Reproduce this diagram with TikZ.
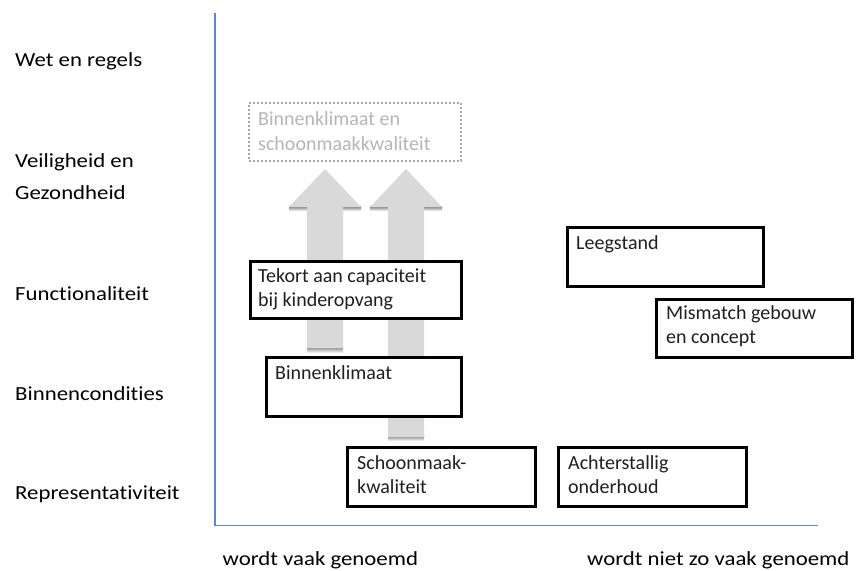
\documentclass[tikz,border=0pt]{standalone}
\usepackage{fontspec}
\setmainfont[Ligatures=NoCommon]{Carlito}
\newfontfamily\lblfont[FakeStretch=1.14,Ligatures=NoCommon]{Carlito}
\definecolor{axisblue}{HTML}{5B8AC6}
\definecolor{arrowgray}{HTML}{D9D9D9}
\definecolor{fadedtext}{HTML}{B5B5B5}
\definecolor{dotgray}{HTML}{A6A6A6}
\definecolor{boxtext}{HTML}{1F1F1F}
\newcommand{\fl}{\rule{0pt}{15pt}}
\begin{document}
\begin{tikzpicture}[x=1pt,y=-1pt,
  boxnode/.style={draw=black, line width=3pt, fill=white, anchor=north west, inner sep=0pt},
  btxt/.style={font=\fontsize{20}{24}\selectfont, text=boxtext, inner sep=0pt, anchor=north west, align=left},
  lbl/.style={font=\lblfont\fontsize{20}{31.5}\selectfont, text=black, inner sep=0pt, anchor=north west, align=left},
  axisline/.style={draw=axisblue, line width=1.3pt},
  blockarrow/.style={fill=arrowgray},
  arrowshadow/.style={top color=black!55, bottom color=white},
  dotbox/.style={draw=dotgray, line width=2pt, dash pattern=on 2pt off 2pt, anchor=north west, inner sep=0pt},
  fadedtxt/.style={font=\fontsize{20}{25}\selectfont, text=fadedtext, inner sep=0pt, anchor=north west, align=left}]
\useasboundingbox (0,0) rectangle (856,570);

% axes
\coordinate (ytop) at (215,13);
\coordinate (origin) at (215,525.5);
\coordinate (xend) at (818,525.5);
\draw[axisline] (ytop) -- (origin) -- (xend);

% left labels
\node[lbl] (l1) at (15,51) {\fl Wet en regels};
\node[lbl] (l2) at (15,152.7) {\fl Veiligheid en\\Gezondheid};
\node[lbl] (l3) at (15,285) {\fl Functionaliteit};
\node[lbl] (l4) at (15,385) {\fl Binnencondities};
\node[lbl] (l5) at (15,484) {\fl Representativiteit};

% bottom labels
\node[lbl] (b1) at (222.5,550) {\fl wordt vaak genoemd};
\node[lbl] (b2) at (587,550) {\fl wordt niet zo vaak genoemd};

% block arrows
\fill[arrowshadow] (289,206) rectangle (307,211);
\fill[arrowshadow] (343,206) rectangle (361,211);
\fill[arrowshadow] (307,346) rectangle (343,353);
\fill[blockarrow] (307,348) -- (307,207) -- (289,207) -- (325,169) -- (361,207) -- (343,207) -- (343,348) -- cycle;
\fill[arrowshadow] (370,206) rectangle (388,211);
\fill[arrowshadow] (424,206) rectangle (442,211);
\fill[arrowshadow] (388,435) rectangle (424,441);
\fill[blockarrow] (388,437) -- (388,207) -- (370,207) -- (406,169) -- (442,207) -- (424,207) -- (424,437) -- cycle;

% dotted (target) box
\node[dotbox, minimum width=212pt, minimum height=58pt] (target) at (248,102) {};
\node[fadedtxt] (target-t) at (258,110) {\fl Binnenklimaat en\\schoonmaakkwaliteit};

% boxes
\node[boxnode, minimum width=211pt, minimum height=57pt] (tekort) at (248.5,259.5) {};
\node[btxt] (tekort-t) at (258,267) {\fl Tekort aan capaciteit\\bij kinderopvang};

\node[boxnode, minimum width=195pt, minimum height=59pt] (binnen) at (264.5,355.5) {};
\node[btxt] (binnen-t) at (275,364) {\fl Binnenklimaat};

\node[boxnode, minimum width=188pt, minimum height=59pt] (schoon) at (345.5,445.5) {};
\node[btxt] (schoon-t) at (357,454) {\fl Schoonmaak-\\kwaliteit};

\node[boxnode, minimum width=196pt, minimum height=59pt] (leeg) at (565.5,225.5) {};
\node[btxt] (leeg-t) at (576,234) {\fl Leegstand};

\node[boxnode, minimum width=196pt, minimum height=58pt] (mismatch) at (654.5,297.5) {};
\node[btxt] (mismatch-t) at (666,304.5) {\fl Mismatch gebouw\\en concept};

\node[boxnode, minimum width=188pt, minimum height=59pt] (achter) at (556.5,445.5) {};
\node[btxt] (achter-t) at (568,454) {\fl Achterstallig\\onderhoud};
\end{tikzpicture}
\end{document}
